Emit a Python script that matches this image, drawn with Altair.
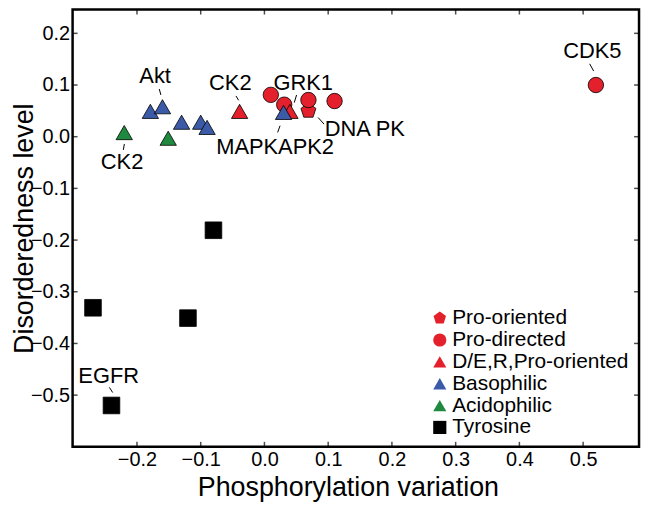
import altair as alt
import pandas as pd

# ---------------- data ----------------
categories = ["Pro-oriented", "Pro-directed", "D/E,R,Pro-oriented",
              "Basophilic", "Acidophilic", "Tyrosine"]

pt_cat = ["Pro-oriented",
          "Pro-directed", "Pro-directed", "Pro-directed", "Pro-directed", "Pro-directed",
          "D/E,R,Pro-oriented", "D/E,R,Pro-oriented",
          "Basophilic", "Basophilic", "Basophilic", "Basophilic", "Basophilic", "Basophilic",
          "Acidophilic", "Acidophilic",
          "Tyrosine", "Tyrosine", "Tyrosine", "Tyrosine"]
pt_x = [0.069,
        0.010, 0.031, 0.069, 0.110, 0.520,
        -0.039, 0.040,
        -0.179, -0.160, -0.130, -0.100, -0.090, 0.030,
        -0.220, -0.151,
        -0.080, -0.269, -0.120, -0.240]
pt_y = [0.050,
        0.081, 0.062, 0.071, 0.069, 0.100,
        0.049, 0.049,
        0.049, 0.058, 0.028, 0.028, 0.018, 0.047,
        0.008, -0.003,
        -0.181, -0.331, -0.351, -0.520]

lab_text = ["Akt", "CK2", "GRK1", "DNA PK", "MAPKAPK2", "CK2", "EGFR", "CDK5"]
lab_x = [-0.1715, -0.0535, 0.0608, 0.1575, 0.0167, -0.2234, -0.2443, 0.5145]
lab_y = [0.117, 0.1044, 0.1044, 0.0148, -0.0206, -0.0494, -0.463, 0.1654]

lead_x1 = [-0.165, -0.0447, 0.0504, 0.0842, 0.0245, -0.2198, -0.2432, 0.5103]
lead_y1 = [0.0923, 0.0788, 0.0808, 0.0371, 0.0212, -0.014, -0.485, 0.141]
lead_x2 = [-0.1625, -0.0405, 0.0468, 0.0935, 0.0207, -0.2214, -0.2381, 0.5165]
lead_y2 = [0.0808, 0.0705, 0.066, 0.0244, 0.0083, -0.0256, -0.495, 0.127]

x_ticks = [-0.2, -0.1, 0.0, 0.1, 0.2, 0.3, 0.4, 0.5]
y_ticks = [-0.5, -0.4, -0.3, -0.2, -0.1, 0.0, 0.1, 0.2]

# ---------------- style ----------------
FONT = "Liberation Sans"
W, H = 570, 440
x_domain = [-0.301, 0.5877]
y_domain = [-0.600, 0.246]
pentagon = "M0,-1L0.951,-0.309L0.588,0.809L-0.588,0.809L-0.951,-0.309Z"
colors = ["#e3202b", "#e3202b", "#e3202b", "#3b5ba9", "#1f8a3f", "#000000"]
shapes = [pentagon, "circle", "triangle-up", "triangle-up", "triangle-up", "square"]
sizes = [250, 240, 270, 270, 270, 280]

points = pd.DataFrame({"cat": pt_cat, "x": pt_x, "y": pt_y})
points["ord"] = [categories.index(c) for c in pt_cat]
points["sz"] = [sizes[categories.index(c)] for c in pt_cat]
labels = pd.DataFrame({"label": lab_text, "x": lab_x, "y": lab_y})
leaders = pd.DataFrame({"x": lead_x1, "y": lead_y1, "x2": lead_x2, "y2": lead_y2})
xt = pd.DataFrame({"x": x_ticks})
yt = pd.DataFrame({"y": y_ticks})

xs = alt.Scale(domain=x_domain, nice=False, zero=False)
ys = alt.Scale(domain=y_domain, nice=False, zero=False)

x_axis = alt.Axis(values=x_ticks, format=".1f", domain=False, ticks=False, grid=False,
                  labelFontSize=20, labelPadding=3, labelColor="black",
                  title="Phosphorylation variation", titleFontSize=27,
                  titleFontWeight="normal", titleColor="black",
                  titleX=277, titleY=49, titleBaseline="alphabetic", titleAlign="center")
y_axis = alt.Axis(values=y_ticks, format=".1f", domain=False, ticks=False, grid=False,
                  labelFontSize=20, labelPadding=3, labelColor="black",
                  title="Disorderedness level", titleFontSize=27,
                  titleFontWeight="normal", titleColor="black", titleAngle=-90,
                  titleX=-40, titleY=220, titleBaseline="alphabetic", titleAlign="center")

X = alt.X("x:Q", scale=xs, axis=x_axis)
Y = alt.Y("y:Q", scale=ys, axis=y_axis)

legend = alt.Legend(title=None, orient="none", legendX=359, legendY=300,
                    labelFontSize=21, labelFont=FONT, labelColor="black", labelLimit=400,
                    symbolSize=175, symbolStrokeColor="black", symbolStrokeWidth=0.7,
                    rowPadding=0, labelOffset=2, padding=0)

pts = alt.Chart(points).mark_point(filled=True, opacity=1, stroke="black",
                                   strokeWidth=0.8).encode(
    x=X, y=Y,
    fill=alt.Fill("cat:N", scale=alt.Scale(domain=categories, range=colors), legend=legend),
    shape=alt.Shape("cat:N", scale=alt.Scale(domain=categories, range=shapes), legend=legend),
    size=alt.Size("sz:Q", scale=None),
    order=alt.Order("ord:Q"),
)

lead = alt.Chart(leaders).mark_rule(color="black", strokeWidth=1).encode(
    x=X, y=Y, x2="x2:Q", y2="y2:Q")

txt = alt.Chart(labels).mark_text(font=FONT, fontSize=22, color="black",
                                  align="center", baseline="middle").encode(
    x=X, y=Y, text="label:N")

tick_bottom = alt.Chart(xt).mark_tick(orient="vertical", color="black",
                                      thickness=1.5, size=5).encode(x=X, y=alt.value(H - 2.5))
tick_top = alt.Chart(xt).mark_tick(orient="vertical", color="black",
                                   thickness=1.5, size=5).encode(x=X, y=alt.value(2.5))
tick_left = alt.Chart(yt).mark_tick(orient="horizontal", color="black",
                                    thickness=1.5, size=5).encode(y=Y, x=alt.value(2.5))
tick_right = alt.Chart(yt).mark_tick(orient="horizontal", color="black",
                                     thickness=1.5, size=5).encode(y=Y, x=alt.value(W - 2.5))

chart = alt.layer(lead, pts, txt, tick_bottom, tick_top, tick_left, tick_right).properties(
    width=W, height=H,
    autosize=alt.AutoSizeParams(type="none"),
    padding={"left": 65, "top": 0, "right": 5, "bottom": 60},
    background="white",
).configure_view(
    stroke="black", strokeWidth=2.5
).configure_axis(
    labelFont=FONT, titleFont=FONT
)

chart.save("out.html", embed_options={"renderer": "svg", "actions": False})
